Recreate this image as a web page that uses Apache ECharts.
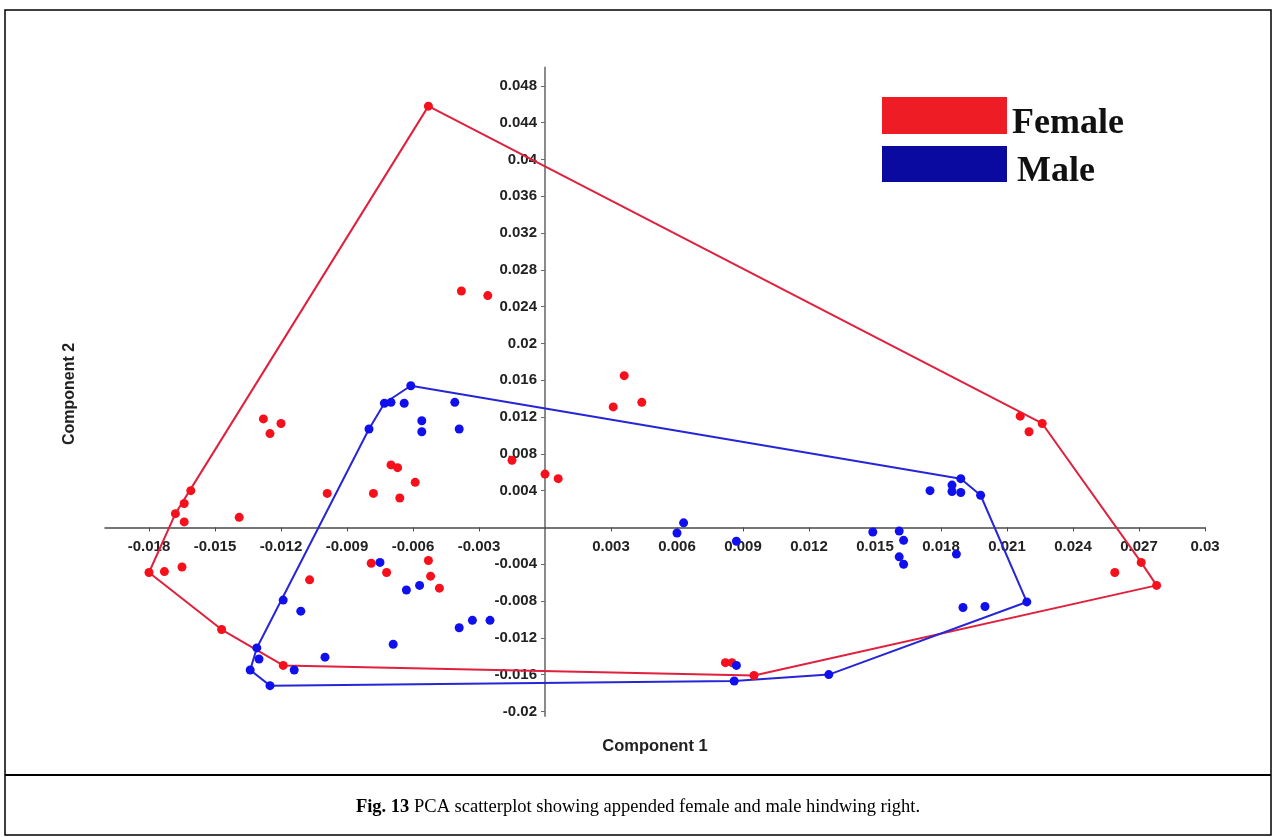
<!DOCTYPE html>
<html>
<head>
<meta charset="utf-8">
<script src="https://cdn.jsdelivr.net/npm/echarts@6/dist/echarts.min.js"></script>
<style>
html,body{margin:0;padding:0;background:#fff;}
#chart{width:1275px;height:837px;}
</style>
</head>
<body>
<div id="chart"></div>
<script>
// ---- data ----
const xTickValues = [-0.018,-0.015,-0.012,-0.009,-0.006,-0.003,0.003,0.006,0.009,0.012,0.015,0.018,0.021,0.024,0.027,0.03];
const yTickValues = [0.048,0.044,0.04,0.036,0.032,0.028,0.024,0.02,0.016,0.012,0.008,0.004,-0.004,-0.008,-0.012,-0.016,-0.02];
const seriesNames = ['Female','Male'];
const femalePoints = [
  [-0.0180,-0.0049],[-0.0173,-0.0048],[-0.0165,-0.0043],[-0.0168,0.0015],[-0.0164,0.0026],
  [-0.0161,0.0040],[-0.0164,0.0006],[-0.0139,0.0011],[-0.0147,-0.0111],[-0.0128,0.0118],
  [-0.0125,0.0102],[-0.0120,0.0113],[-0.0099,0.0037],[-0.0078,0.0037],[-0.0070,0.0068],
  [-0.0067,0.0065],[-0.0066,0.0032],[-0.0059,0.0049],[-0.0015,0.0073],[0.0000,0.0058],
  [0.0006,0.0053],[-0.0079,-0.0039],[-0.0072,-0.0049],[-0.0107,-0.0057],[-0.0053,-0.0036],
  [-0.0052,-0.0053],[-0.0048,-0.0066],[-0.0119,-0.0150],[-0.0038,0.0257],[-0.0026,0.0252],
  [0.0036,0.0165],[0.0031,0.0131],[0.0044,0.0136],[-0.0053,0.0458],[0.0216,0.0121],
  [0.0220,0.0104],[0.0226,0.0113],[0.0271,-0.0038],[0.0259,-0.0049],[0.0278,-0.0063],
  [0.0082,-0.0147],[0.0085,-0.0147],[0.0095,-0.0161]
];
const malePoints = [
  [-0.0061,0.0154],[-0.0073,0.0135],[-0.0070,0.0136],[-0.0064,0.0135],[-0.0080,0.0107],
  [-0.0056,0.0116],[-0.0056,0.0104],[-0.0041,0.0136],[-0.0039,0.0107],[-0.0075,-0.0038],
  [-0.0063,-0.0068],[-0.0057,-0.0063],[-0.0119,-0.0079],[-0.0111,-0.0091],[-0.0039,-0.0109],
  [-0.0033,-0.0101],[-0.0025,-0.0101],[-0.0069,-0.0127],[-0.0100,-0.0141],[-0.0131,-0.0131],
  [-0.0130,-0.0143],[-0.0134,-0.0155],[-0.0114,-0.0155],[-0.0125,-0.0172],[0.0189,0.0053],
  [0.0185,0.0046],[0.0185,0.0039],[0.0189,0.0038],[0.0175,0.0040],[0.0198,0.0035],
  [0.0149,-0.0005],[0.0161,-0.0004],[0.0163,-0.0014],[0.0161,-0.0032],[0.0163,-0.0040],
  [0.0187,-0.0029],[0.0219,-0.0081],[0.0190,-0.0087],[0.0200,-0.0086],[0.0063,0.0005],
  [0.0060,-0.0006],[0.0087,-0.0015],[0.0087,-0.0150],[0.0086,-0.0167],[0.0129,-0.0160]
];
const captionBold = 'Fig. 13';
const captionText = ' PCA scatterplot showing appended female and male hindwing right.';
const xTitle = 'Component 1';
const yTitle = 'Component 2';

// convex hull (monotone chain) of a group's points
function convexHull(pts){
  const p = pts.slice().sort((a,b)=>a[0]-b[0]||a[1]-b[1]);
  const cross=(o,a,b)=>(a[0]-o[0])*(b[1]-o[1])-(a[1]-o[1])*(b[0]-o[0]);
  const lower=[],upper=[];
  for(const q of p){while(lower.length>=2&&cross(lower[lower.length-2],lower[lower.length-1],q)<=0)lower.pop();lower.push(q);}
  for(let i=p.length-1;i>=0;i--){const q=p[i];while(upper.length>=2&&cross(upper[upper.length-2],upper[upper.length-1],q)<=0)upper.pop();upper.push(q);}
  upper.pop();lower.pop();
  const h=lower.concat(upper);
  h.push(h[0]);
  return h;
}

const fmt = v => String(Number(v.toFixed(3)));
const labelFont = {fontFamily:'Liberation Sans, Arial, sans-serif', fontWeight:'bold', fontSize:15, color:'#222'};
const X_MIN=-0.02, X_MAX=0.03, Y_MIN=-0.0205, Y_MAX=0.05;
const legendFont = {fontFamily:'Liberation Serif, Times New Roman, serif', fontWeight:'bold', fontSize:36, fill:'#111', align:'left', verticalAlign:'middle'};

const chart = echarts.init(document.getElementById('chart'), null, {renderer:'canvas'});
chart.setOption({
  backgroundColor:'#fff',
  animation:false,
  grid:{left:105, right:70, top:67.5, bottom:121, containLabel:false},
  xAxis:{
    type:'value', min:X_MIN, max:X_MAX, position:'bottom',
    splitLine:{show:false},
    axisLine:{onZero:false, lineStyle:{color:'#4a4a4a', width:1.5}},
    axisTick:{show:true, customValues:xTickValues, length:4, lineStyle:{color:'#4a4a4a'}},
    axisLabel:Object.assign({customValues:xTickValues, margin:12, formatter:fmt}, labelFont)
  },
  yAxis:{
    type:'value', min:Y_MIN, max:Y_MAX, position:'left',
    splitLine:{show:false},
    axisLine:{onZero:false, lineStyle:{color:'#8a8a8a', width:2}},
    axisTick:{show:true, customValues:yTickValues, length:4, lineStyle:{color:'#6a6a6a'}},
    axisLabel:Object.assign({customValues:yTickValues, margin:8, formatter:fmt}, labelFont)
  },
  series:[
    {name:'Female hull', type:'line', data:convexHull(femalePoints), symbol:'none', z:2,
     lineStyle:{color:'#e0203c', width:2}, silent:true},
    {name:'Male hull', type:'line', data:convexHull(malePoints), symbol:'none', z:3,
     lineStyle:{color:'#2626d8', width:2}, silent:true},
    {name:seriesNames[0], type:'scatter', data:femalePoints, symbol:'circle', symbolSize:9, z:4,
     itemStyle:{color:'#f5101c', opacity:1}},
    {name:seriesNames[1], type:'scatter', data:malePoints, symbol:'circle', symbolSize:9, z:5,
     itemStyle:{color:'#1010ee', opacity:1}}
  ],
  graphic:[
    {type:'rect', shape:{x:5, y:10, width:1266, height:825}, style:{fill:'none', stroke:'#000', lineWidth:1.5}, silent:true},
    {type:'line', shape:{x1:5, y1:775, x2:1271, y2:775}, style:{stroke:'#000', lineWidth:2}, silent:true},
    // legend
    {type:'rect', shape:{x:882, y:97, width:125, height:37}, style:{fill:'#ee1c25'}, silent:true},
    {type:'rect', shape:{x:882, y:146, width:125, height:36}, style:{fill:'#0a0aa0'}, silent:true},
    {type:'text', x:1012, y:123.5, style:Object.assign({text:seriesNames[0]}, legendFont), silent:true},
    {type:'text', x:1017, y:172, style:Object.assign({text:seriesNames[1]}, legendFont), silent:true},
    {type:'text', x:638, y:807, style:{
      text:'{b|'+captionBold+'}'+captionText,
      rich:{b:{fontWeight:'bold', fontFamily:'Liberation Serif, Times New Roman, serif', fontSize:18.5, fill:'#000'}},
      fontFamily:'Liberation Serif, Times New Roman, serif', fontSize:18.5, fill:'#000',
      align:'center', verticalAlign:'middle'}, silent:true},
    {type:'text', x:655, y:746, style:{text:xTitle, fontFamily:'Liberation Sans, Arial, sans-serif', fontWeight:'bold', fontSize:16.5, fill:'#222', align:'center', verticalAlign:'middle'}, silent:true},
    {type:'text', x:70, y:394, rotation:Math.PI/2, style:{text:yTitle, fontFamily:'Liberation Sans, Arial, sans-serif', fontWeight:'bold', fontSize:16, fill:'#222', align:'center', verticalAlign:'middle'}, silent:true}
  ]
});
// move the axes so they cross at the origin (labels follow)
const zero = chart.convertToPixel({gridIndex:0}, [0,0]);
const corner = chart.convertToPixel({gridIndex:0}, [X_MIN, Y_MIN]);
chart.setOption({
  xAxis:{offset: -(corner[1]-zero[1])},
  yAxis:{offset: -(zero[0]-corner[0])}
});
</script>
</body>
</html>
